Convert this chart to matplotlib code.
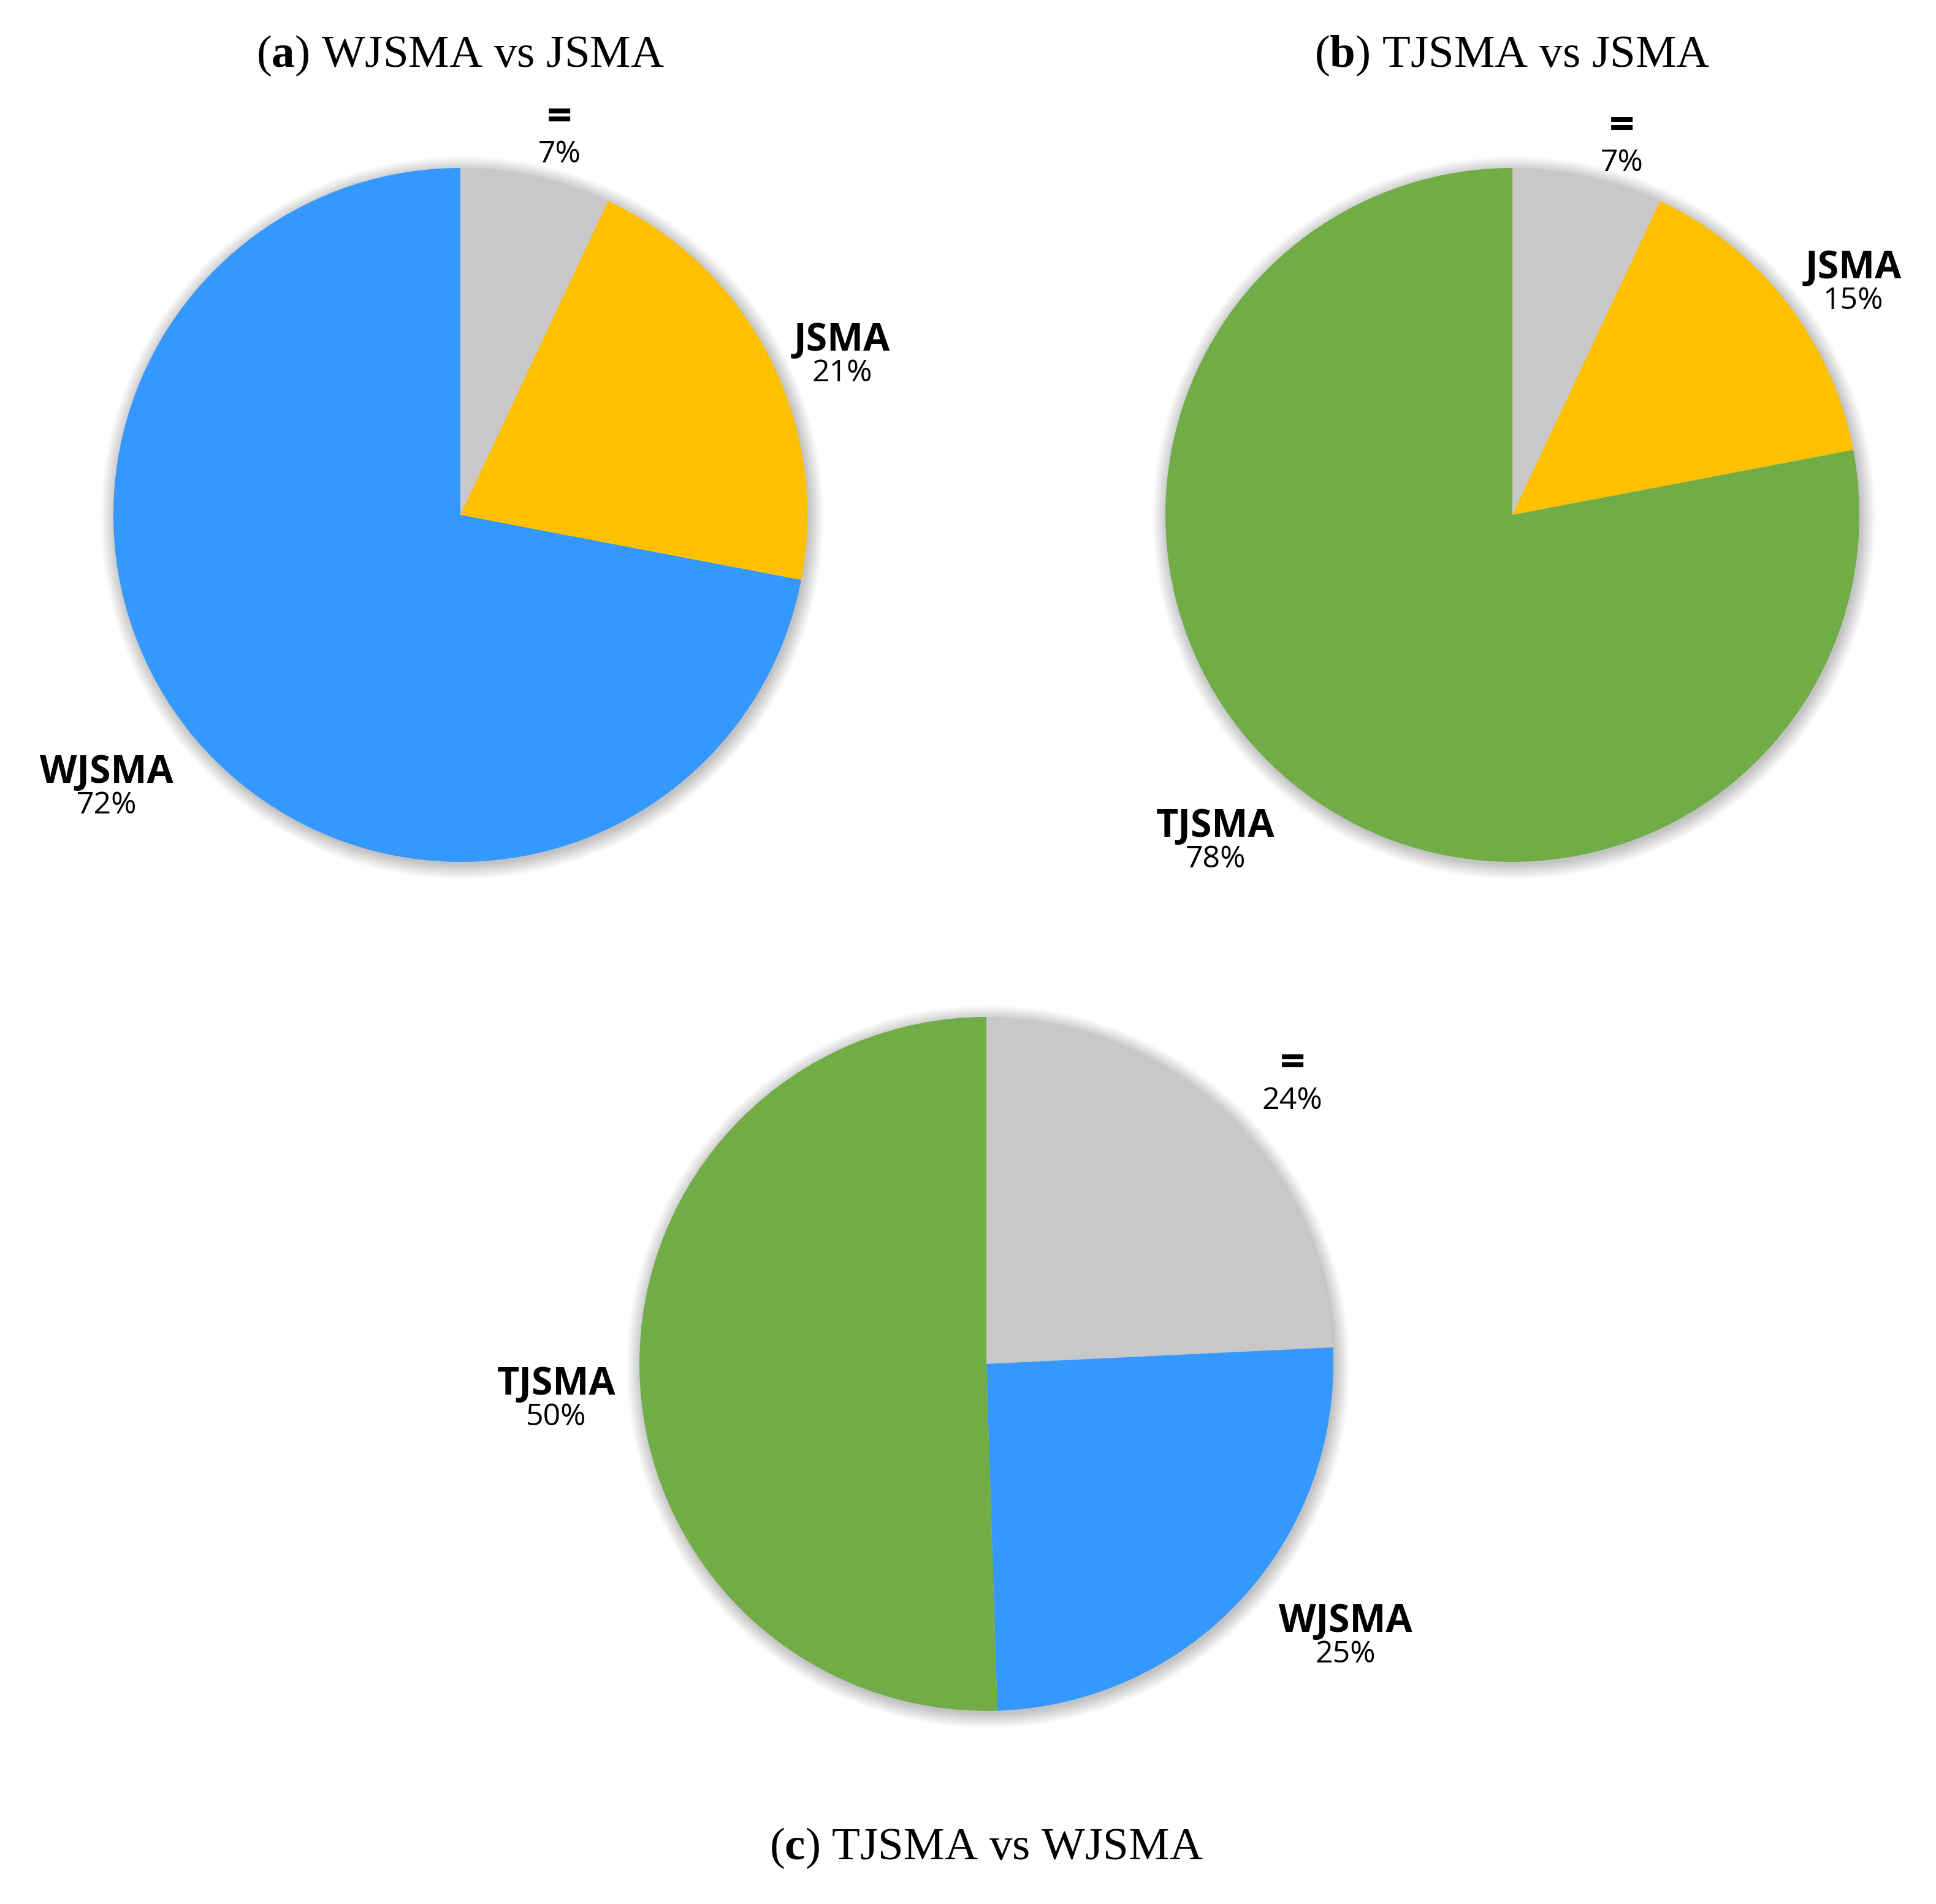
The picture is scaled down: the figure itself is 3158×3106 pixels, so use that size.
#!/usr/bin/env python3
import numpy as np
import matplotlib
matplotlib.use("Agg")
import matplotlib.pyplot as plt
from matplotlib.patches import Circle

plt.rcParams["mathtext.fontset"] = "custom"
plt.rcParams["mathtext.bf"] = "Liberation Serif:bold"
plt.rcParams["mathtext.rm"] = "Liberation Serif"

# data
names_a = ["=", "JSMA", "WJSMA"]
values_a = [7, 21, 72]
names_b = ["=", "JSMA", "TJSMA"]
values_b = [7, 15, 78]
names_c = ["=", "WJSMA", "TJSMA"]
values_c = [24, 25, 50]
titles = [("a", "WJSMA vs JSMA"), ("b", "TJSMA vs JSMA"), ("c", "TJSMA vs WJSMA")]

colors = {"=": "#C8C8C8", "JSMA": "#FFC000", "WJSMA": "#3598FE", "TJSMA": "#70AD47"}

W, H = 3158, 3106
DPI = 200
R = 566          # pie radius in px
HALF = 1.25      # half axis extent in radius units

# label anchor (x, y) in radius units, name line then pct line below
label_pos = {
    "a": [(0.285, 1.08), (1.10, 0.455), (-1.02, -0.79)],
    "b": [(0.315, 1.055), (0.982, 0.664), (-0.856, -0.946)],
    "c": [(0.882, 0.80), (1.035, -0.79), (-1.24, -0.107)],
}

label_font = "Open Sans"
title_font = "Liberation Serif"

fig = plt.figure(figsize=(W / DPI, H / DPI), dpi=DPI)


def pie_axes(cx, cy):
    side = 2 * HALF * R
    ax = fig.add_axes([(cx - side / 2) / W, 1 - (cy + side / 2) / H, side / W, side / H])
    ax.set_xlim(-HALF, HALF)
    ax.set_ylim(-HALF, HALF)
    ax.set_aspect("equal")
    ax.axis("off")
    return ax


def draw_pie(ax, key, names, values):
    # soft shadow, a bit heavier to the lower right
    for k in range(20):
        ax.add_patch(Circle((0.005, -0.008), 1.0 + 0.0022 * k, color="#000000",
                            alpha=0.013, lw=0, zorder=0))
    ax.pie(values, colors=[colors[n] for n in names], startangle=90,
           counterclock=False, radius=1.0, wedgeprops=dict(linewidth=0, zorder=1))
    ax.set_xlim(-HALF, HALF)
    ax.set_ylim(-HALF, HALF)
    for (x, y), n, v in zip(label_pos[key], names, values):
        if n == "=":
            ax.text(x, y + 0.062, n, ha="center", va="center", fontsize=26,
                    fontweight="bold", family=label_font, color="black")
            ax.text(x, y - 0.042, f"{v}%", ha="center", va="center", fontsize=18,
                    family=label_font, color="black")
        else:
            ax.text(x, y + 0.047, n, ha="center", va="center", fontsize=22.5,
                    fontweight="bold", family=label_font, color="black")
            ax.text(x, y - 0.048, f"{v}%", ha="center", va="center", fontsize=18,
                    family=label_font, color="black")


ax_a = pie_axes(751, 840)
draw_pie(ax_a, "a", names_a, values_a)
ax_b = pie_axes(2467, 840)
draw_pie(ax_b, "b", names_b, values_b)
ax_c = pie_axes(1609, 2225)
draw_pie(ax_c, "c", names_c, values_c)

title_xy = [(751, 91), (2467, 91), (1609, 3015)]
for (letter, txt), (x, y) in zip(titles, title_xy):
    fig.text(x / W, 1 - y / H, "(" + r"$\mathbf{" + letter + "}$" + f") {txt}",
             ha="center", va="center", fontsize=27, family=title_font)

fig.savefig("out.png", dpi=DPI, facecolor="white")
